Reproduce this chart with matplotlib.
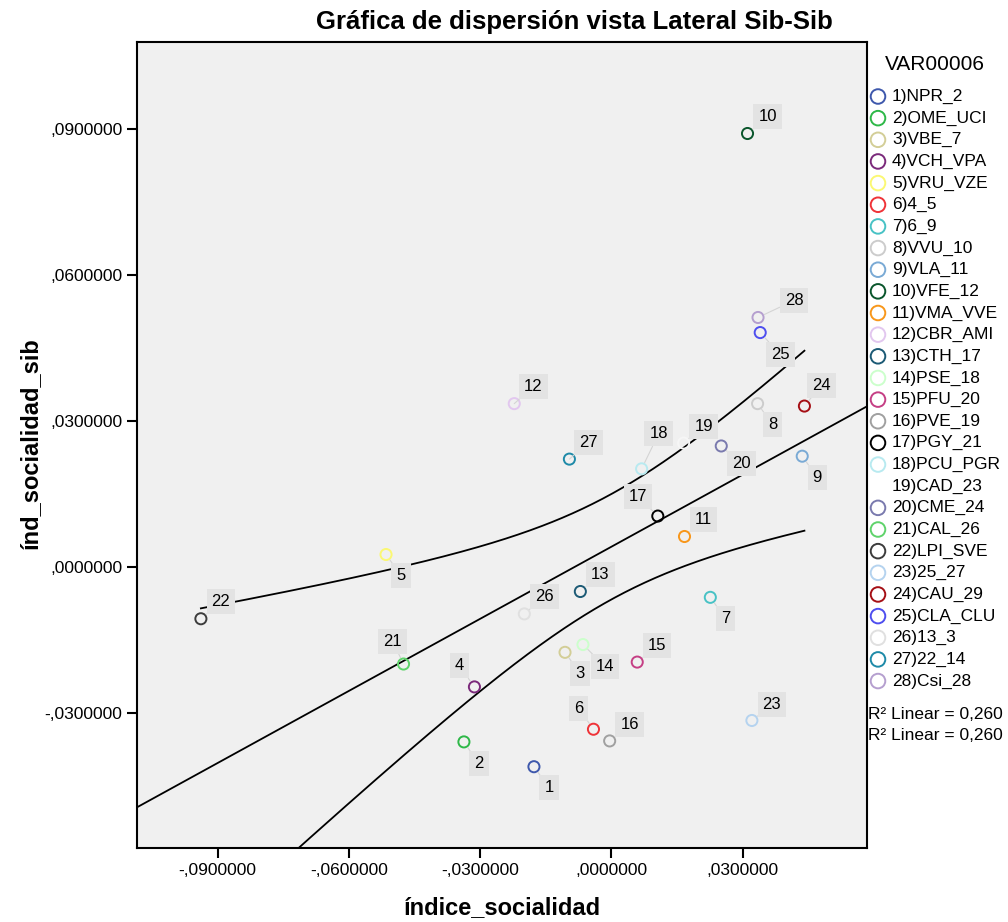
import matplotlib

matplotlib.use("Agg")
import matplotlib.pyplot as plt
import numpy as np
from matplotlib.ticker import FuncFormatter

plt.rcParams["font.family"] = ["Liberation Sans", "DejaVu Sans"]

# --- data ------------------------------------------------------------------
case_ids = list(range(1, 29))
case_names = [
    "NPR_2", "OME_UCI", "VBE_7", "VCH_VPA", "VRU_VZE", "4_5", "6_9", "VVU_10",
    "VLA_11", "VFE_12", "VMA_VVE", "CBR_AMI", "CTH_17", "PSE_18", "PFU_20",
    "PVE_19", "PGY_21", "PCU_PGR", "CAD_23", "CME_24", "CAL_26", "LPI_SVE",
    "25_27", "CAU_29", "CLA_CLU", "13_3", "22_14", "Csi_28",
]
indice_socialidad = [
    -0.0177, -0.0337, -0.0106, -0.0313, -0.0515, -0.0041, 0.0226, 0.0334,
    0.0436, 0.0311, 0.0167, -0.0222, -0.0071, -0.0065, 0.0059, -0.0004,
    0.0106, 0.0069, 0.0165, 0.0251, -0.0475, -0.0938, 0.0321, 0.0441,
    0.0340, -0.0199, -0.0096, 0.0335,
]
ind_socialidad_sib = [
    -0.0410, -0.0359, -0.0175, -0.0246, 0.0026, -0.0333, -0.0062, 0.0336,
    0.0228, 0.0891, 0.0063, 0.0336, -0.0050, -0.0159, -0.0195, -0.0357,
    0.0105, 0.0202, 0.0255, 0.0249, -0.0199, -0.0106, -0.0315, 0.0331,
    0.0482, -0.0096, 0.0222, 0.0513,
]
case_colors = [
    "#3e58ac", "#2eb848", "#d3ce97", "#7b2a7b", "#fbf873", "#ef3338",
    "#48c2c5", "#cccccc", "#7aaad5", "#0a562c", "#f8971b", "#e2c7ef",
    "#1c5a75", "#ccffcc", "#c53f85", "#a0a0a0", "#000000", "#b8eaf0",
    "#f6f6f6", "#7a7aae", "#5fd36b", "#3c3c3c", "#b5d3ef", "#a50f15",
    "#4e4eef", "#e0e0e0", "#1e8aa8", "#b59fcf",
]
r2_value = 0.260
x_ticks = [-0.09, -0.06, -0.03, 0.0, 0.03]
y_ticks = [-0.03, 0.0, 0.03, 0.06, 0.09]

# label placement (pixels, +dy = down)
label_offsets = {
    1: (15, 21), 2: (15, 22), 3: (15, 21), 4: (-15, -21), 5: (15, 21),
    6: (-15, -21), 7: (15, 21), 8: (15, 21), 9: (15, 21), 10: (20, -17),
    11: (19, -17), 12: (19, -17), 13: (20, -17), 14: (22, 22), 15: (20, -17),
    16: (20, -16), 17: (-20, -20), 18: (17, -35), 19: (20, -17), 20: (20, 18),
    21: (-11, -23), 22: (20, -17), 23: (20, -16), 24: (17, -21), 25: (20, 22),
    26: (20, -17), 27: (19, -17), 28: (36, -17),
}

W, H = 1008, 922
BG = "#f0f0f0"


def spss_fmt(v, _pos=None):
    if abs(v) < 1e-12:
        v = 0.0
    s = f"{v:.7f}".replace("0.", ".", 1)
    return s.replace(".", ",")


fig = plt.figure(figsize=(W / 100, H / 100), dpi=100)
ax = fig.add_axes([137 / W, 1 - 848 / H, 730 / W, 806 / H])
ax.set_facecolor(BG)
ax.set_xlim(-0.1084, 0.0584)
ax.set_ylim(-0.0577, 0.1079)

x = np.array(indice_socialidad)
y = np.array(ind_socialidad_sib)

# linear fit + 95% mean confidence band
n = len(x)
slope, intercept = np.polyfit(x, y, 1)
resid = y - (slope * x + intercept)
s = np.sqrt(np.sum(resid ** 2) / (n - 2))
xm = x.mean()
sxx = np.sum((x - xm) ** 2)
t_crit = 2.056  # t(0.975, df=26)
xx = np.linspace(x.min(), x.max(), 300)
yy = slope * xx + intercept
half = t_crit * s * np.sqrt(1 / n + (xx - xm) ** 2 / sxx)
xl = np.array(ax.get_xlim())
ax.plot(xl, slope * xl + intercept, color="black", lw=1.3, zorder=2)
ax.plot(xx, yy + half, color="black", lw=1.3, zorder=2)
ax.plot(xx, yy - half, color="black", lw=1.3, zorder=2)

ax.scatter(x, y, s=64, facecolors="none", edgecolors=case_colors, linewidths=1.4, zorder=4)

for cid, xi, yi in zip(case_ids, x, y):
    dx, dy = label_offsets[cid]
    ax.annotate(
        str(cid), (xi, yi), xytext=(dx * 0.72, -dy * 0.72), textcoords="offset points",
        ha="center", va="center", fontsize=12, zorder=5,
        bbox=dict(boxstyle="square,pad=0.3", fc="#e3e3e3", ec="none"),
        arrowprops=dict(arrowstyle="-", color="#d4d4d4", lw=0.8, shrinkA=0, shrinkB=5),
    )

ax.set_xticks(x_ticks)
ax.set_yticks(y_ticks)
ax.xaxis.set_major_formatter(FuncFormatter(spss_fmt))
ax.yaxis.set_major_formatter(FuncFormatter(spss_fmt))
ax.tick_params(direction="out", length=7.5, width=1.5, labelsize=12.5, pad=3)
for sp in ax.spines.values():
    sp.set_linewidth(1.5)

fig.text(574 / W, 1 - 22 / H, "Gráfica de dispersión vista Lateral Sib-Sib",
         ha="center", va="center", fontsize=18.5, fontweight="bold")
fig.text(502 / W, 1 - 908 / H, "índice_socialidad", ha="center", va="center",
         fontsize=17, fontweight="bold")
fig.text(30 / W, 1 - 443 / H, "índ_socialidad_sib", ha="center", va="center",
         rotation=90, fontsize=17, fontweight="bold")

# legend panel drawn in pixel coordinates
lg = fig.add_axes([867 / W, 0, (W - 867) / W, 1])
lg.set_xlim(867, W)
lg.set_ylim(H, 0)
lg.axis("off")
lg.text(935, 64, "VAR00006", ha="center", va="center", fontsize=15)
for i, (cid, name, col) in enumerate(zip(case_ids, case_names, case_colors)):
    yy_i = 96.5 + i * 21.65
    if col.lower() != "#f6f6f6":
        lg.scatter([878], [yy_i], s=110, facecolors="none", edgecolors=col, linewidths=1.4)
    lg.text(892, yy_i, f"{cid}){name}", ha="left", va="center", fontsize=12.5)
r2_label = f"R² Linear = {r2_value:.3f}".replace(".", ",")
lg.text(868, 714, r2_label, ha="left", va="center", fontsize=12.5)
lg.text(868, 735, r2_label, ha="left", va="center", fontsize=12.5)

fig.savefig("out.png", dpi=100)
